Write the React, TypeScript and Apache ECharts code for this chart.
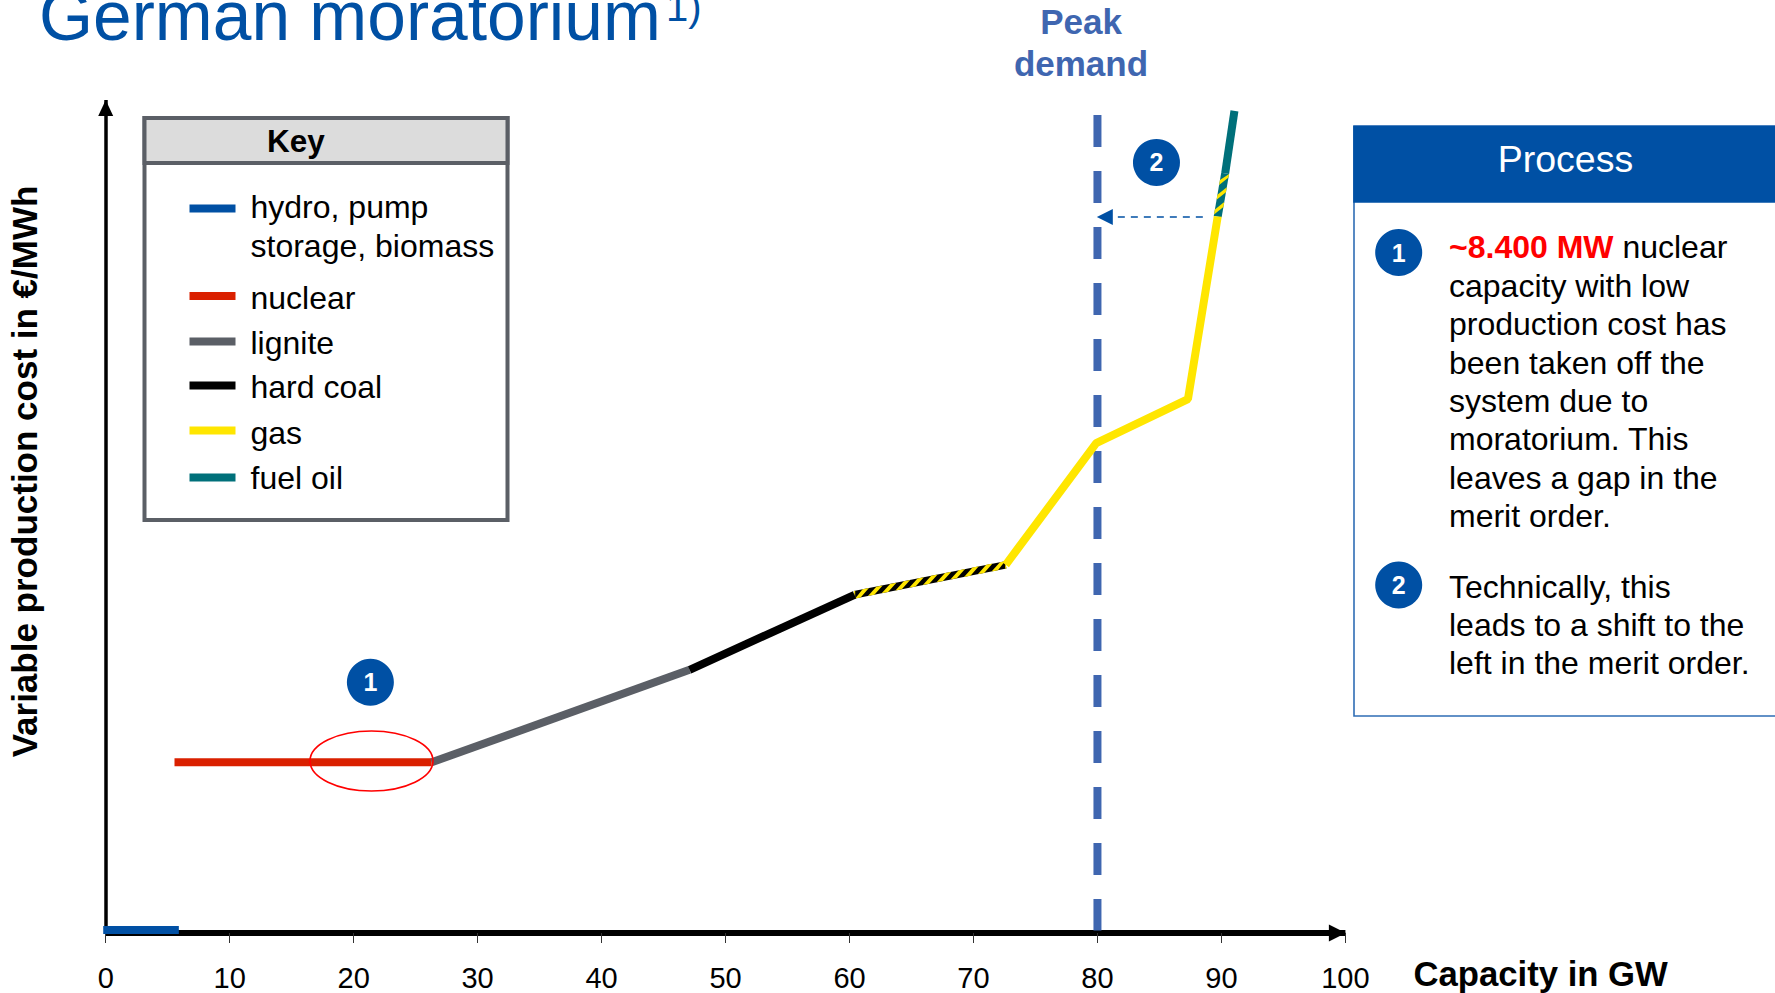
import React, { useEffect, useRef } from "react";
import * as echarts from "echarts";

const FONT = '"Liberation Sans", Arial, sans-serif';

// Merit order curve, capacity in GW against variable production cost
const hydro = [[-0.2, 0.35], [5.9, 0.35]];
const nuclear = [[5.55, 20.5], [26.3, 20.5]];
const lignite = [[26.3, 20.5], [47.1, 31.6]];
const hardCoal = [[47.1, 31.6], [60.4, 40.6]];
const coalGasMix = [[60.4, 40.6, 72.6, 44.2]];
const gas = [[72.6, 44.2], [79.9, 58.8], [87.3, 64.1], [89.7, 86.0]];
const gasOilMix = [[89.7, 86.0, 90.3, 91.2]];
const fuelOil = [[90.3, 91.2], [91.05, 98.7]];
const peakDemand = [[80, 98.2], [80, 0.3]];
const shiftArrow = [[88.5, 85.95, 79.95, 85.95]];
const nuclearOutage = [[16.48, 17.05, 26.4, 24.25]];
const chartBadges = [[21.35, 30.1, "1"], [84.76, 92.5, "2"]];

const xTicks = { min: 0, max: 100, step: 10 };

const BLUE = "#0050A4";
const PEAK_BLUE = "#3F66B0";
const colors = {
  hydro: BLUE,
  nuclear: "#DA2000",
  lignite: "#5B5F66",
  hardCoal: "#000000",
  gas: "#FFE600",
  fuelOil: "#00707A",
};

const keyRows: [string, string, number, number][] = [
  ["hydro, pump\nstorage, biomass", colors.hydro, 208.5, 226.5],
  ["nuclear", colors.nuclear, 296, 297.5],
  ["lignite", colors.lignite, 341.5, 342.5],
  ["hard coal", colors.hardCoal, 385.5, 387],
  ["gas", colors.gas, 430.5, 432.5],
  ["fuel oil", colors.fuelOil, 477.5, 477.5],
];

const processLines = [
  "capacity with low",
  "production cost has",
  "been taken off the",
  "system due to",
  "moratorium. This",
  "leaves a gap in the",
  "merit order.",
];
const processLines2 = ["Technically, this", "leads to a shift to the", "left in the merit order."];

const lineSeries = (name: string, data: number[][], color: string) => ({
  name,
  type: "line",
  data,
  symbol: "none",
  clip: false,
  silent: true,
  z: 4,
  lineStyle: { color, width: 8, cap: "butt", join: "bevel" },
});

// Two-coloured hatched stretch where two fuels overlap in the merit order
const hatched = (
  data: number[][],
  base: string,
  stripe: string,
  period: number,
  stripeLen: number,
  skew: number,
  width: number
) => ({
  type: "custom",
  data,
  clip: false,
  silent: true,
  z: 4,
  encode: { x: [0, 2], y: [1, 3] },
  renderItem: (_: any, api: any) => {
    const a = api.coord([api.value(0), api.value(1)]);
    const b = api.coord([api.value(2), api.value(3)]);
    const dx = b[0] - a[0];
    const dy = b[1] - a[1];
    const len = Math.hypot(dx, dy);
    const ux = dx / len;
    const uy = dy / len;
    const nx = uy;
    const ny = -ux;
    const pt = (t: number, side: number) => [
      a[0] + ux * t + nx * side * (width / 2),
      a[1] + uy * t + ny * side * (width / 2),
    ];
    const clamp = (t: number) => Math.max(0, Math.min(len, t));
    const children: any[] = [
      {
        type: "polygon",
        shape: { points: [pt(0, 1), pt(len, 1), pt(len, -1), pt(0, -1)] },
        style: { fill: base },
      },
    ];
    for (let t = -Math.abs(skew) - period; t < len + Math.abs(skew); t += period) {
      const up0 = clamp(t + skew / 2);
      const up1 = clamp(t + skew / 2 + stripeLen);
      const lo0 = clamp(t - skew / 2);
      const lo1 = clamp(t - skew / 2 + stripeLen);
      if (up1 <= up0 && lo1 <= lo0) continue;
      children.push({
        type: "polygon",
        shape: { points: [pt(up0, 1), pt(up1, 1), pt(lo1, -1), pt(lo0, -1)] },
        style: { fill: stripe },
      });
    }
    return { type: "group", children };
  },
});

const badge = (cx: number, cy: number, text: string) => [
  { type: "circle", shape: { cx, cy, r: 23.5 }, style: { fill: BLUE }, z: 20 },
  {
    type: "text",
    z: 21,
    style: {
      text,
      x: cx,
      y: cy,
      align: "center",
      verticalAlign: "middle",
      fontFamily: FONT,
      fontSize: 25,
      fontWeight: "bold",
      fill: "#fff",
    },
  },
];

const label = (
  text: string,
  x: number,
  y: number,
  fontSize: number,
  fill = "#000",
  fontWeight = "normal",
  align = "left"
) => ({
  type: "text",
  z: 21,
  style: { text, x, y, align, verticalAlign: "middle", fontFamily: FONT, fontSize, fontWeight, fill, lineHeight: 38.5 },
});

export default function App() {
  const ref = useRef<HTMLDivElement>(null);

  useEffect(() => {
    const chart = echarts.init(ref.current!, null, { renderer: "svg" });

    const keyGraphics = keyRows.flatMap(([text, color, swatchY, textY]) => [
      { type: "rect", z: 21, shape: { x: 189.5, y: swatchY - 4, width: 46, height: 8 }, style: { fill: color } },
      label(text, 250.5, textY, 32),
    ]);

    chart.setOption({
      animation: false,
      backgroundColor: "#ffffff",
      textStyle: { fontFamily: FONT },
      grid: { left: 105.7, right: 429.6, top: 100, bottom: 60, containLabel: false, outerBoundsMode: "none" },
      xAxis: {
        type: "value",
        min: xTicks.min,
        max: xTicks.max,
        interval: xTicks.step,
        splitLine: { show: false },
        axisLine: {
          show: true,
          symbol: ["none", "triangle"],
          symbolSize: [17, 17],
          symbolOffset: [0, -8],
          lineStyle: { color: "#000", width: 6, cap: "butt" },
        },
        axisTick: { show: true, length: 10, inside: false, lineStyle: { color: "#333", width: 1 } },
        axisLabel: { fontFamily: FONT, fontSize: 29, color: "#000", margin: 30 },
        name: "Capacity in GW",
        nameLocation: "end",
        nameGap: 68,
        nameMoveOverlap: false,
        nameTextStyle: {
          fontFamily: FONT,
          fontSize: 34.7,
          fontWeight: "bold",
          color: "#000",
          align: "left",
          verticalAlign: "top",
          padding: [23, 0, 0, 0],
        },
      },
      yAxis: {
        type: "value",
        min: 0,
        max: 100,
        splitLine: { show: false },
        axisTick: { show: false },
        axisLabel: { show: false },
        axisLine: {
          show: true,
          symbol: ["none", "triangle"],
          symbolSize: [15, 16],
          symbolOffset: [0, -8],
          lineStyle: { color: "#000", width: 3.5, cap: "butt" },
        },
        name: "Variable production cost in €/MWh",
        nameLocation: "middle",
        nameGap: 64,
        nameTextStyle: {
          fontFamily: FONT,
          fontSize: 35,
          fontWeight: "bold",
          color: "#000",
          padding: [0, 0, 0, 90],
        },
      },
      series: [
        {
          name: "Peak demand",
          type: "line",
          data: peakDemand,
          symbol: "none",
          clip: false,
          silent: true,
          z: 3,
          lineStyle: { color: PEAK_BLUE, width: 8, type: [32, 24], cap: "butt" },
        },
        lineSeries("hydro, pump storage, biomass", hydro, colors.hydro),
        lineSeries("nuclear", nuclear, colors.nuclear),
        lineSeries("lignite", lignite, colors.lignite),
        lineSeries("hard coal", hardCoal, colors.hardCoal),
        hatched(coalGasMix, colors.hardCoal, colors.gas, 14, 6.5, 10, 7.5),
        lineSeries("gas", gas, colors.gas),
        hatched(gasOilMix, colors.fuelOil, colors.gas, 15, 5, -9, 8),
        lineSeries("fuel oil", fuelOil, colors.fuelOil),
        {
          type: "custom",
          data: nuclearOutage,
          clip: false,
          silent: true,
          z: 5,
          encode: { x: [0, 2], y: [1, 3] },
          renderItem: (_: any, api: any) => {
            const a = api.coord([api.value(0), api.value(1)]);
            const b = api.coord([api.value(2), api.value(3)]);
            return {
              type: "ellipse",
              shape: {
                cx: (a[0] + b[0]) / 2,
                cy: (a[1] + b[1]) / 2,
                rx: Math.abs(b[0] - a[0]) / 2,
                ry: Math.abs(b[1] - a[1]) / 2,
              },
              style: { fill: "none", stroke: "#FF0000", lineWidth: 1.6 },
            };
          },
        },
        {
          type: "custom",
          data: shiftArrow,
          clip: false,
          silent: true,
          z: 5,
          encode: { x: [0, 2], y: [1, 3] },
          renderItem: (_: any, api: any) => {
            const a = api.coord([api.value(0), api.value(1)]);
            const b = api.coord([api.value(2), api.value(3)]);
            return {
              type: "group",
              children: [
                {
                  type: "line",
                  shape: { x1: a[0], y1: a[1], x2: b[0] + 16, y2: b[1] },
                  style: { stroke: BLUE, lineWidth: 1.6, lineDash: [7, 6] },
                },
                {
                  type: "polygon",
                  shape: { points: [[b[0], b[1]], [b[0] + 16, b[1] - 8], [b[0] + 16, b[1] + 8]] },
                  style: { fill: BLUE },
                },
              ],
            };
          },
        },
        {
          type: "scatter",
          data: chartBadges,
          symbol: "circle",
          symbolSize: 47,
          clip: false,
          silent: true,
          z: 6,
          itemStyle: { color: BLUE, opacity: 1 },
          label: {
            show: true,
            position: "inside",
            formatter: (p: any) => p.value[2],
            fontFamily: FONT,
            fontSize: 25,
            fontWeight: "bold",
            color: "#fff",
          },
        },
      ],
      graphic: {
        elements: [
          // Title, running off the top edge of the slide
          label("German moratorium", 39, 16, 69.5, BLUE),
          label("1)", 666, 7, 40, BLUE),

          // Peak demand caption
          label("Peak", 1081, 21.5, 35, PEAK_BLUE, "bold", "center"),
          label("demand", 1081, 63, 35, PEAK_BLUE, "bold", "center"),

          // Key box
          {
            type: "rect",
            z: 20,
            shape: { x: 144.5, y: 118, width: 363, height: 402 },
            style: { fill: "#fff", stroke: "#5B5F66", lineWidth: 4 },
          },
          {
            type: "rect",
            z: 20,
            shape: { x: 144.5, y: 118, width: 363, height: 45 },
            style: { fill: "#DCDCDC", stroke: "#5B5F66", lineWidth: 4 },
          },
          label("Key", 296, 141, 31.5, "#000", "bold", "center"),
          ...keyGraphics,

          // Process panel
          {
            type: "rect",
            z: 20,
            shape: { x: 1354, y: 126, width: 440, height: 590 },
            style: { fill: "#fff", stroke: "#2F6DB5", lineWidth: 1.6 },
          },
          {
            type: "rect",
            z: 20,
            shape: { x: 1353.2, y: 125.7, width: 440, height: 77 },
            style: { fill: BLUE },
          },
          label("Process", 1565.5, 159, 37.5, "#fff", "normal", "center"),
          ...badge(1398.7, 252.5, "1"),
          {
            type: "text",
            z: 21,
            style: {
              text: "{r|~8.400 MW} nuclear",
              x: 1449,
              y: 247,
              verticalAlign: "middle",
              fontFamily: FONT,
              fontSize: 32,
              fill: "#000",
              rich: { r: { fontFamily: FONT, fontSize: 32, fontWeight: "bold", fill: "#FF0000" } },
            },
          },
          ...processLines.map((t, i) => label(t, 1449, 286 + i * 38.3, 32)),
          ...badge(1398.7, 585, "2"),
          ...processLines2.map((t, i) => label(t, 1449, 586.5 + i * 38, 32)),
        ],
      },
    });

    return () => chart.dispose();
  }, []);

  return <div ref={ref} style={{ position: "absolute", left: 0, top: 0, width: 1775, height: 993 }} />;
}
